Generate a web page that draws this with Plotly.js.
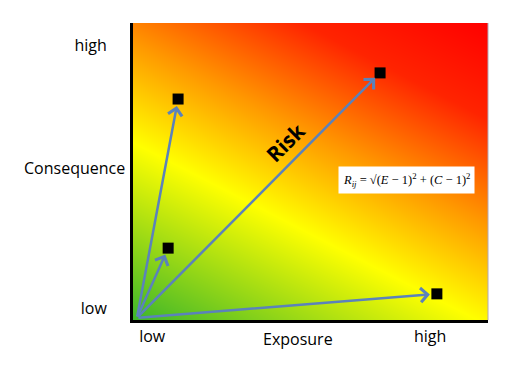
<!DOCTYPE html>
<html>
<head>
<meta charset="utf-8">
<script src="https://cdn.plot.ly/plotly-3.0.1.min.js"></script>
<style>html,body{margin:0;padding:0;background:#fff;}#chart{width:516px;height:367px;}</style>
</head>
<body>
<div id="chart"></div>
<script>
// Risk points (Exposure, Consequence) in 0..10 units
const exposure = [1.27, 6.96, 0.99, 8.56];
const consequence = [7.44, 8.32, 2.42, 0.88];
// Common arrow origin
const originX = 0.11;
const originY = 0.07;
// Tick labels
const xTickVals = [0.54, 8.37];
const xTickText = ['low', 'high'];
const yTickVals = [0.4, 9.26];
const yTickText = ['low', 'high'];
// Background gradient corner values (bottom row, top row)
const gradX = [0, 10];
const gradY = [0, 10];
const gradZ = [[0, 0.381], [0.619, 1]];

const font = "'Open Sans', 'Liberation Sans', sans-serif";

const traces = [
  {
    type: 'heatmap', x: gradX, y: gradY, z: gradZ, zsmooth: 'best',
    zmin: 0, zmax: 1, showscale: false, hoverinfo: 'skip',
    colorscale: [[0, '#3cb52a'], [0.37, '#ffff00'], [0.58, '#ff9800'], [0.8, '#ff2400'], [1, '#ff0000']]
  },
  {
    type: 'scatter', mode: 'markers', x: exposure, y: consequence,
    marker: {symbol: 'square', size: 11, color: '#000'}, hoverinfo: 'skip'
  }
];

const annotations = exposure.map((ex, i) => ({
  x: ex, y: consequence[i], xref: 'x', yref: 'y',
  ax: originX, ay: originY, axref: 'x', ayref: 'y',
  text: '', showarrow: true, arrowhead: 4, arrowsize: 1.1,
  arrowwidth: 2.5, arrowcolor: '#5b82bb', standoff: 7
}));

annotations.push({
  x: 4.3, y: 6.0, xref: 'x', yref: 'y', text: '<b>Risk</b>', showarrow: false,
  textangle: -45, font: {family: font, size: 21, color: '#000'}
});
annotations.push({
  x: 7.69, y: 4.7, xref: 'x', yref: 'y', showarrow: false,
  text: '<i>R</i><sub><i>ij</i></sub> = √(<i>E</i> − 1)<sup>2</sup> + (<i>C</i> − 1)<sup>2</sup>',
  bgcolor: '#ffffff', borderpad: 4,
  font: {family: "'Liberation Serif', 'Times New Roman', serif", size: 12.5, color: '#000'}
});
annotations.push({
  xref: 'paper', yref: 'y', x: 0, y: 5.13, xanchor: 'right', xshift: -6,
  text: 'Consequence', showarrow: false, font: {family: font, size: 16, color: '#000'}
});
annotations.push({
  xref: 'x', yref: 'paper', x: 4.65, y: 0, yanchor: 'top', yshift: -6,
  text: 'Exposure', showarrow: false, font: {family: font, size: 16, color: '#000'}
});

const layout = {
  width: 516, height: 367,
  margin: {l: 133, r: 28, t: 23, b: 47},
  paper_bgcolor: '#fff', plot_bgcolor: '#fff',
  showlegend: false,
  xaxis: {
    range: [0, 10], showgrid: false, zeroline: false, showline: true,
    linecolor: '#000', linewidth: 3, ticks: '',
    tickvals: xTickVals, ticktext: xTickText, ticklabelstandoff: 0,
    tickfont: {family: font, size: 16, color: '#000'}
  },
  yaxis: {
    range: [0, 10], showgrid: false, zeroline: false, showline: true,
    linecolor: '#000', linewidth: 3, ticks: '',
    tickvals: yTickVals, ticktext: yTickText, ticklabelstandoff: 20,
    tickfont: {family: font, size: 16, color: '#000'}
  },
  annotations: annotations,
  shapes: [
    {type: 'line', xref: 'paper', yref: 'paper', x0: 1, x1: 1, y0: 0, y1: 1, line: {color: '#b0a8b8', width: 1}}
  ]
};

Plotly.newPlot('chart', traces, layout, {staticPlot: true, displayModeBar: false});
</script>
</body>
</html>
